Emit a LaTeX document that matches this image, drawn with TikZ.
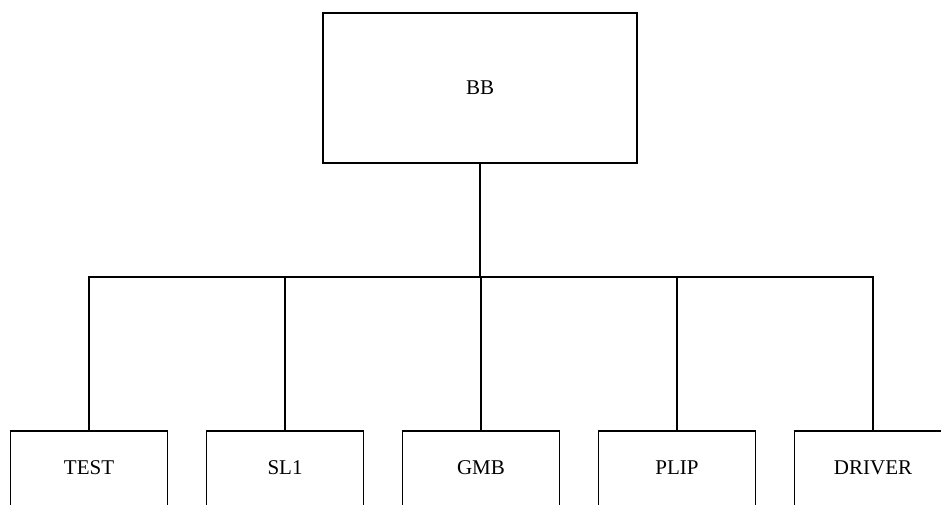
\documentclass[tikz,border=0pt]{standalone}
\usepackage{fontspec}
\setmainfont{Liberation Serif}
\usetikzlibrary{calc}

\tikzset{
  box/.style={draw, line width=1.6pt, minimum width=314pt, minimum height=150pt,
    font=\fontsize{21}{25}\selectfont},
  leaf/.style={draw, line width=1.6pt, minimum width=157pt, minimum height=84pt,
    text depth=10pt, font=\fontsize{21}{25}\selectfont},
  wire/.style={line width=1.3pt}
}

\begin{document}
\begin{tikzpicture}[x=1pt, y=-1pt]
\def\dx{196}
\def\ybus{277}

\useasboundingbox (0,0) rectangle (941,504);

\node[box] (bb) at (480,88) {BB};

\node[leaf] (test) at (89,473) {TEST};
\node[leaf] (sl1) at (89+\dx,473) {SL1};
\node[leaf] (gmb) at (89+2*\dx,473) {GMB};
\node[leaf] (plip) at (89+3*\dx,473) {PLIP};
\node[leaf] (driver) at (89+4*\dx,473) {DRIVER};

\coordinate (bus) at (0,\ybus);

\foreach \n in {test,sl1,gmb,plip,driver}
  \draw[wire] (bb.south) -- (bb.south |- bus) -| (\n.north);
\end{tikzpicture}
\end{document}
